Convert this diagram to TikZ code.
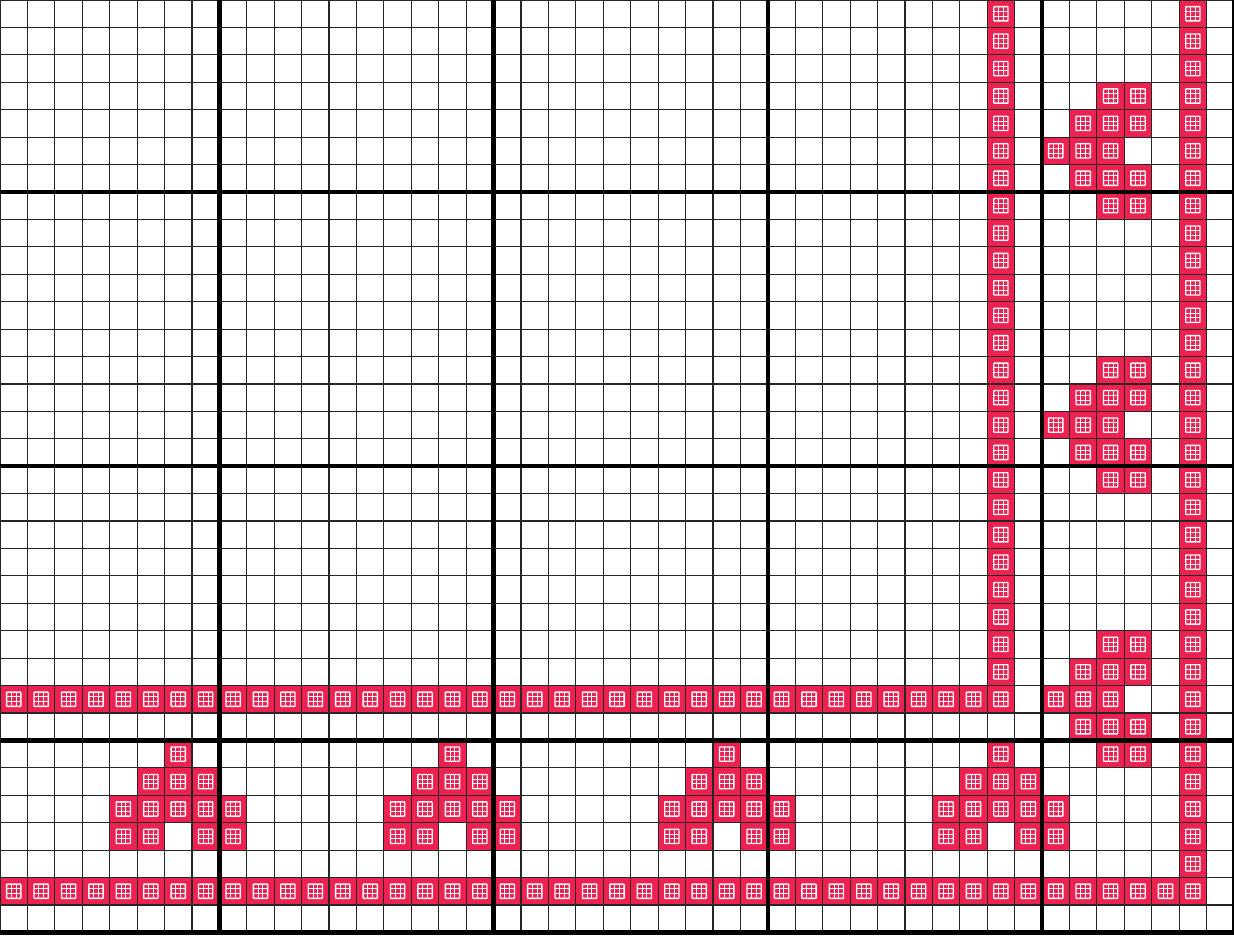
\documentclass[tikz,border=0pt]{standalone}
\usepackage{xcolor}
\usepackage{tikz}
\definecolor{cellred}{RGB}{238,34,80}

\begin{document}
\begin{tikzpicture}[x=0.5cm, y=-0.5cm,
    gridline/.style={draw=black!85, line width=0.6pt},
    blockline/.style={draw=black, line width=2.3pt},
    live/.pic={
        \fill[cellred] (0,0) rectangle (1,1);
        \draw[white, line width=0.7pt, rounded corners=0.3pt] (0.24,0.24) rectangle (0.76,0.76);
        \foreach \k in {0.4133,0.5867} {
            \draw[white, line width=0.5pt] (\k,0.24) -- (\k,0.76);
            \draw[white, line width=0.5pt] (0.24,\k) -- (0.76,\k);
        }
    }
]
\useasboundingbox (0,0) rectangle (45,34.1);

% long walls
\foreach \r in {0,...,25} \pic at (36,\r) {live};
\foreach \r in {0,...,32} \pic at (43,\r) {live};
\foreach \c in {0,...,35} \pic at (\c,25) {live};
\foreach \c in {0,...,42} \pic at (\c,32) {live};

% right hand shapes
\foreach \o in {3,13,23} {
    \foreach \c/\r in {40/0,41/0,39/1,40/1,41/1,38/2,39/2,40/2,39/3,40/3,41/3,40/4,41/4}
        \pic at (\c,\o+\r) {live};
}

% bottom shapes
\foreach \m in {6,16,26,36} {
    \foreach \dc/\r in {0/27,-1/28,0/28,1/28,-2/29,-1/29,0/29,1/29,2/29,-2/30,-1/30,1/30,2/30}
        \pic at (\m+\dc,\r) {live};
}

% grid
\foreach \c in {0,...,45} \draw[gridline] (\c,0) -- (\c,34.1);
\foreach \r in {0,...,34} \draw[gridline] (0,\r) -- (45,\r);
\foreach \c in {8,18,28,38,45} \draw[blockline] (\c,0) -- (\c,34.1);
\foreach \r in {7,17,27,34} \draw[blockline] (0,\r) -- (45,\r);
\end{tikzpicture}
\end{document}
